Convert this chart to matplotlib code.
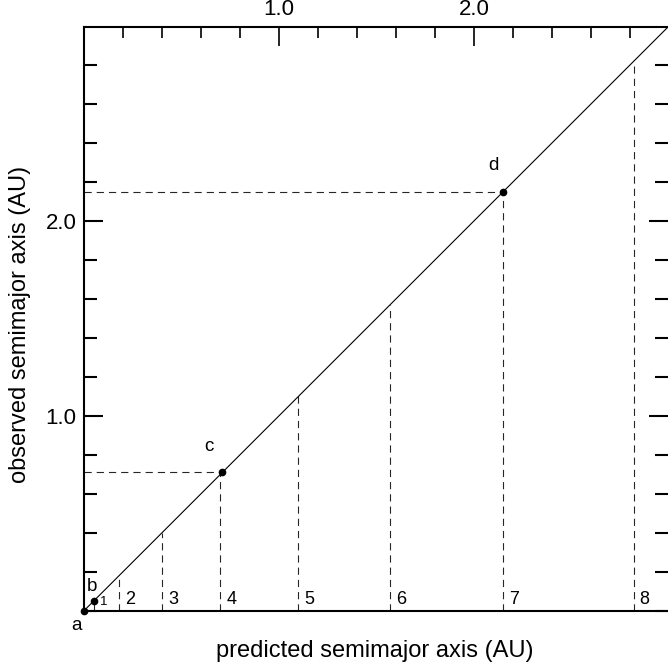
import matplotlib
matplotlib.use("Agg")
import matplotlib.pyplot as plt
from matplotlib.ticker import MultipleLocator

plt.rcParams['font.family'] = ['Liberation Sans', 'DejaVu Sans']

# predicted positions (vertical dashed lines, numbered)
line_nums = ["1", "2", "3", "4", "5", "6", "7", "8"]
line_pos = [0.05, 0.18, 0.40, 0.70, 1.10, 1.57, 2.15, 2.82]

# observed points (labelled)
pt_labels = ["a", "b", "c", "d"]
pt_pos = [0.0, 0.05, 0.71, 2.15]

lim = 2.995

fig = plt.figure(figsize=(6.68, 6.70), dpi=100)
ax = fig.add_axes([84 / 668, 59.3 / 670, 584 / 668, 583.7 / 670])

# diagonal
ax.plot([0, lim], [0, lim], color='black', lw=0.8, zorder=3)

# vertical dashed lines up to the diagonal
for n, x in zip(line_nums, line_pos):
    ax.plot([x, x], [0, x], color='0.15', lw=0.8, ls=(0, (6.5, 4.5)), zorder=2)
    fs = 9.5 if n == "1" else 13
    ax.text(x + 0.03, 0.015, n, fontsize=fs, ha='left', va='bottom')

# horizontal dashed lines and dots for observed points
for lab, v in zip(pt_labels, pt_pos):
    if v > 0.3:
        ax.plot([0, v], [v, v], color='0.15', lw=0.8, ls=(0, (6.5, 4.5)), zorder=2)
    ax.plot(v, v, 'o', color='black', ms=4.5, zorder=4, clip_on=False)

ax.text(-0.04, -0.03, "a", fontsize=13.5, ha='center', va='top')
ax.text(0.04, 0.08, "b", fontsize=13.5, ha='center', va='bottom')
ax.text(0.64, 0.80, "c", fontsize=13.5, ha='center', va='bottom')
ax.text(2.10, 2.24, "d", fontsize=13.5, ha='center', va='bottom')

ax.set_xlim(0, lim)
ax.set_ylim(0, lim)

ax.spines['right'].set_visible(False)
for s in ['top', 'left', 'bottom']:
    ax.spines[s].set_linewidth(1.5)

ax.xaxis.set_major_locator(MultipleLocator(1.0))
ax.xaxis.set_minor_locator(MultipleLocator(0.2))
ax.yaxis.set_major_locator(MultipleLocator(1.0))
ax.yaxis.set_minor_locator(MultipleLocator(0.2))

ax.tick_params(axis='x', which='both', direction='in', top=True, bottom=False,
               labeltop=True, labelbottom=False, width=1.2, labelsize=16, pad=5)
ax.tick_params(axis='x', which='major', length=13.5)
ax.tick_params(axis='x', which='minor', length=8)
ax.tick_params(axis='y', which='both', direction='in', left=True, right=True,
               labelleft=True, labelright=False, width=1.5, labelsize=16, pad=5.5)
ax.tick_params(axis='y', which='major', length=14)
ax.tick_params(axis='y', which='minor', length=9.5)

ax.set_xticks([1.0, 2.0])
ax.set_xticklabels(["1.0", "2.0"])
ax.set_yticks([1.0, 2.0])
ax.set_yticklabels(["1.0", "2.0"])

ax.set_xlabel("predicted semimajor axis (AU)", fontsize=17)
ax.set_ylabel("observed semimajor axis (AU)", fontsize=17)
ax.xaxis.set_label_coords(0.498, -0.05)
ax.yaxis.set_label_coords(-0.09, 0.49)

fig.savefig("out.png", dpi=100)
